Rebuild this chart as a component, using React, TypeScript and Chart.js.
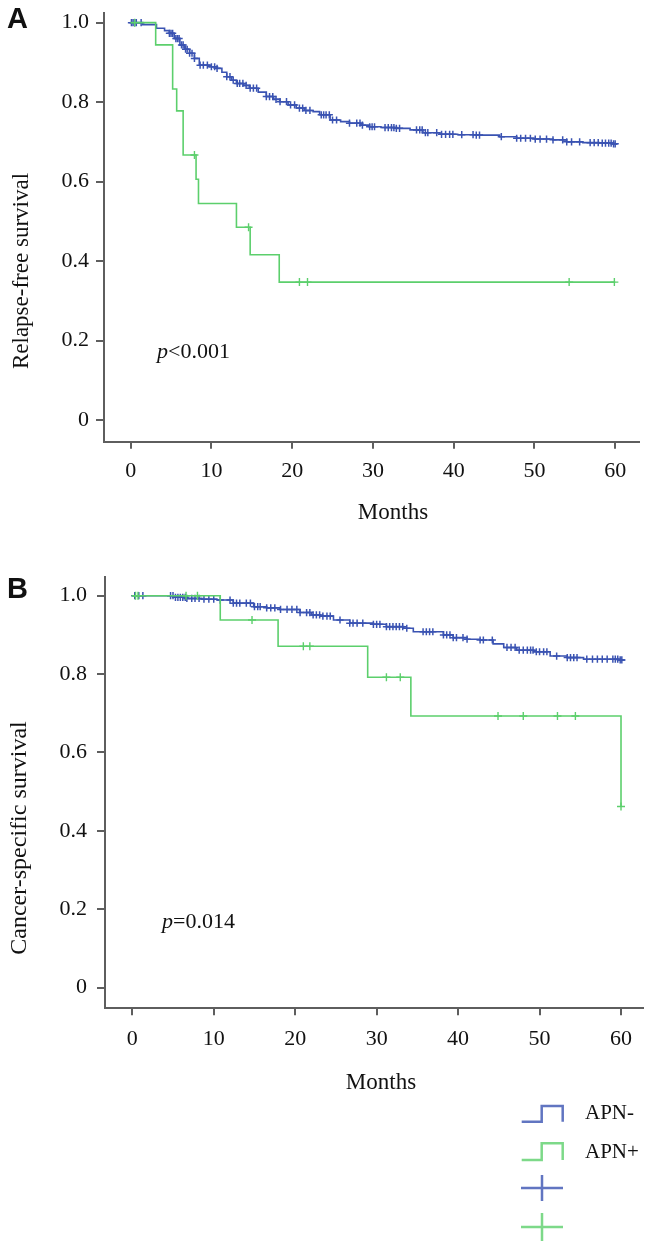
import React, { useEffect, useRef } from 'react';
import { Chart, registerables } from 'chart.js';

Chart.register(...registerables);

// ---------- shared ticks ----------
const xTickValues = [0, 10, 20, 30, 40, 50, 60];
const yTickValues = [0, 0.2, 0.4, 0.6, 0.8, 1.0];

// ---------- Panel A: relapse-free survival ----------
const rfsNegTimes = [0, 1.5, 3.2, 4.2, 4.8, 5.4, 6.1, 6.7, 7.3, 7.9, 8.5, 9.8, 10.6, 11.3, 11.9, 12.5, 13.1, 14.0, 14.7, 15.8, 16.8, 17.7, 18.5, 19.5, 20.5, 21.5, 22.6, 23.4, 24.7, 26.0, 27.1, 28.5, 29.6, 31.0, 32.9, 34.6, 36.2, 38.3, 40.5, 42.8, 45.7, 47.8, 50.0, 52.3, 54.0, 56.0, 58.0, 59.7];
const rfsNegSurv = [1.0, 0.995, 0.986, 0.98, 0.973, 0.96, 0.944, 0.933, 0.923, 0.91, 0.893, 0.889, 0.885, 0.875, 0.864, 0.855, 0.847, 0.842, 0.835, 0.825, 0.814, 0.807, 0.801, 0.793, 0.785, 0.779, 0.776, 0.768, 0.755, 0.751, 0.747, 0.742, 0.738, 0.736, 0.734, 0.73, 0.723, 0.719, 0.718, 0.717, 0.713, 0.709, 0.707, 0.705, 0.7, 0.698, 0.697, 0.695];
const rfsNegEnd = 60.3;
const rfsNegCensored = [0.1, 0.3, 0.5, 0.7, 1.3, 4.8, 5.0, 5.2, 5.6, 5.8, 6.0, 6.3, 6.5, 6.8, 7.0, 7.3, 7.6, 7.9, 8.6, 9.0, 9.5, 10.0, 10.4, 10.7, 11.9, 12.3, 12.7, 13.2, 13.5, 13.9, 14.3, 14.8, 15.2, 15.6, 16.8, 17.2, 17.6, 18.0, 18.5, 19.3, 19.8, 20.3, 20.9, 21.3, 21.7, 22.2, 23.6, 23.9, 24.2, 24.6, 25.0, 25.5, 27.1, 28.0, 28.4, 28.7, 29.6, 29.9, 30.2, 31.5, 31.9, 32.3, 32.6, 32.9, 33.3, 35.4, 35.8, 36.1, 36.5, 36.8, 37.9, 38.5, 39.0, 39.5, 39.9, 41.0, 42.4, 42.8, 43.2, 45.9, 47.8, 48.3, 48.9, 49.5, 50.1, 50.7, 51.5, 52.3, 53.5, 54.0, 54.6, 55.6, 56.9, 57.4, 57.9, 58.4, 58.8, 59.2, 59.5, 59.8, 60.0];

const rfsPosTimes = [0, 3.1, 5.2, 5.7, 6.5, 8.1, 8.4, 13.1, 14.8, 18.4];
const rfsPosSurv = [1.0, 0.944, 0.833, 0.778, 0.667, 0.606, 0.545, 0.485, 0.416, 0.347];
const rfsPosEnd = 60.0;
const rfsPosCensored = [0.5, 7.9, 14.6, 20.9, 21.9, 54.3, 59.9];

// ---------- Panel B: cancer-specific survival ----------
const cssNegTimes = [0, 5.1, 6.7, 8.5, 10.4, 12.4, 14.9, 16.5, 18.1, 20.6, 22.0, 23.1, 24.7, 26.7, 29.6, 31.2, 33.3, 34.5, 38.2, 39.4, 41.1, 42.7, 44.3, 45.6, 47.2, 49.3, 51.3, 53.4, 55.4, 59.9];
const cssNegSurv = [1.0, 0.996, 0.993, 0.991, 0.989, 0.981, 0.972, 0.969, 0.965, 0.957, 0.951, 0.948, 0.938, 0.93, 0.927, 0.921, 0.917, 0.908, 0.9, 0.893, 0.889, 0.887, 0.877, 0.868, 0.861, 0.857, 0.846, 0.842, 0.838, 0.836];
const cssNegEnd = 60.5;
const cssNegCensored = [0.3, 0.8, 1.3, 4.7, 5.0, 5.3, 5.6, 5.9, 6.2, 6.5, 6.7, 7.3, 7.7, 8.2, 8.8, 9.4, 10.0, 10.8, 12.0, 12.4, 12.8, 13.2, 14.0, 14.5, 15.0, 15.4, 15.7, 16.5, 17.0, 17.5, 18.2, 19.0, 19.6, 20.2, 20.6, 21.4, 21.8, 22.2, 22.6, 23.0, 23.4, 23.9, 24.3, 25.5, 26.7, 27.1, 27.6, 28.3, 29.6, 30.0, 30.4, 31.2, 31.6, 32.0, 32.4, 32.8, 33.2, 33.7, 35.7, 36.1, 36.5, 36.9, 38.2, 38.6, 39.0, 39.4, 39.8, 40.6, 41.1, 42.7, 43.1, 44.2, 46.0, 46.5, 47.0, 47.5, 48.0, 48.5, 48.9, 49.2, 49.6, 50.0, 50.5, 50.9, 52.1, 53.4, 53.8, 54.2, 54.6, 55.8, 56.5, 57.1, 57.7, 58.3, 59.0, 59.3, 59.6, 59.9, 60.1];

const cssPosTimes = [0, 10.8, 17.9, 28.9, 34.2, 60.0];
const cssPosSurv = [1.0, 0.938, 0.871, 0.792, 0.693, 0.462];
const cssPosEnd = 60.0;
const cssPosCensored = [0.4, 0.7, 6.6, 8.0, 14.7, 21.0, 21.8, 31.2, 32.9, 44.9, 48.0, 52.2, 54.4, 60.0];

// ---------- labels ----------
const groupLabels = ['APN-', 'APN+'];
const BLUE = '#3a53b2';
const GREEN = '#5ccf6c';
const SERIF = '"Liberation Serif", "Times New Roman", serif';

type Pt = { x: number; y: number };

function stepPoints(times: number[], surv: number[], end: number): Pt[] {
  const pts = times.map((t, i) => ({ x: t, y: surv[i] }));
  if (end > times[times.length - 1]) pts.push({ x: end, y: surv[surv.length - 1] });
  return pts;
}

function censorPoints(times: number[], surv: number[], censored: number[]): Pt[] {
  return censored.map((c) => {
    let v = surv[0];
    for (let i = 0; i < times.length; i++) if (times[i] <= c) v = surv[i];
    return { x: c, y: v };
  });
}

type PanelCfg = {
  letter: string;
  yTitle: string;
  pRest: string;
  neg: { times: number[]; surv: number[]; end: number; cens: number[] };
  pos: { times: number[]; surv: number[]; end: number; cens: number[] };
  canvasTop: number;
  canvasH: number;
  areaLeft: number;
  areaTop: number;
  areaRight: number;
  areaBottom: number;
  xMin: number;
  xMax: number;
  yMin: number;
  yMax: number;
  yTickPad: number;
  xTickPad: number;
  yTitlePos: [number, number];
  yTitleSize: number;
  xTitlePos: [number, number];
  pPos: [number, number];
  letterPos: [number, number];
  legend: boolean;
};

const panelA: PanelCfg = {
  letter: 'A',
  yTitle: 'Relapse-free survival',
  pRest: '<0.001',
  neg: { times: rfsNegTimes, surv: rfsNegSurv, end: rfsNegEnd, cens: rfsNegCensored },
  pos: { times: rfsPosTimes, surv: rfsPosSurv, end: rfsPosEnd, cens: rfsPosCensored },
  canvasTop: 0,
  canvasH: 560,
  areaLeft: 104,
  areaTop: 12.7,
  areaRight: 639,
  areaBottom: 441.7,
  xMin: -3.3,
  xMax: 62.95,
  yMin: -0.0546,
  yMax: 1.025,
  yTickPad: 7,
  xTickPad: 9,
  yTitlePos: [22, 271],
  yTitleSize: 23,
  xTitlePos: [393, 519],
  pPos: [157, 358],
  letterPos: [7, 28],
  legend: false,
};

const panelB: PanelCfg = {
  letter: 'B',
  yTitle: 'Cancer-specific survival',
  pRest: '=0.014',
  neg: { times: cssNegTimes, surv: cssNegSurv, end: cssNegEnd, cens: cssNegCensored },
  pos: { times: cssPosTimes, surv: cssPosSurv, end: cssPosEnd, cens: cssPosCensored },
  canvasTop: 560,
  canvasH: 687,
  areaLeft: 105,
  areaTop: 17.3,
  areaRight: 643,
  areaBottom: 448.3,
  xMin: -3.35,
  xMax: 62.7,
  yMin: -0.053,
  yMax: 1.047,
  yTickPad: 10,
  xTickPad: 11,
  yTitlePos: [20, 278],
  yTitleSize: 24,
  xTitlePos: [381, 529],
  pPos: [162, 368],
  letterPos: [7, 38],
  legend: true,
};

function makeDecor(cfg: PanelCfg) {
  return {
    id: 'decor' + cfg.letter,
    afterDraw(chart: any) {
      const ctx: CanvasRenderingContext2D = chart.ctx;
      ctx.save();
      // panel letter
      ctx.fillStyle = '#111';
      ctx.font = 'bold 29px "Liberation Sans", Arial, sans-serif';
      ctx.textAlign = 'left';
      ctx.textBaseline = 'alphabetic';
      ctx.fillText(cfg.letter, cfg.letterPos[0], cfg.letterPos[1]);

      // y title
      ctx.save();
      ctx.translate(cfg.yTitlePos[0], cfg.yTitlePos[1]);
      ctx.rotate(-Math.PI / 2);
      ctx.font = `${cfg.yTitleSize}px ${SERIF}`;
      ctx.textAlign = 'center';
      ctx.textBaseline = 'middle';
      ctx.fillText(cfg.yTitle, 0, 0);
      ctx.restore();

      // x title
      ctx.font = `23px ${SERIF}`;
      ctx.textAlign = 'center';
      ctx.textBaseline = 'alphabetic';
      ctx.fillText('Months', cfg.xTitlePos[0], cfg.xTitlePos[1]);

      // p value
      ctx.textAlign = 'left';
      ctx.font = `italic 22px ${SERIF}`;
      ctx.fillText('p', cfg.pPos[0], cfg.pPos[1]);
      const pw = ctx.measureText('p').width;
      ctx.font = `22px ${SERIF}`;
      ctx.fillText(cfg.pRest, cfg.pPos[0] + pw, cfg.pPos[1]);

      if (cfg.legend) {
        const top = cfg.canvasTop;
        const drawStep = (color: string, yLow: number, yHigh: number) => {
          ctx.beginPath();
          ctx.strokeStyle = color;
          ctx.lineWidth = 2.5;
          ctx.moveTo(521.7, yLow - top);
          ctx.lineTo(541.7, yLow - top);
          ctx.lineTo(541.7, yHigh - top);
          ctx.lineTo(562.7, yHigh - top);
          ctx.lineTo(562.7, yLow - top);
          ctx.stroke();
        };
        const drawCross = (color: string, cy: number, hh: number) => {
          ctx.beginPath();
          ctx.strokeStyle = color;
          ctx.lineWidth = 2.5;
          ctx.moveTo(521, cy - top);
          ctx.lineTo(563, cy - top);
          ctx.moveTo(542, cy - hh - top);
          ctx.lineTo(542, cy + hh - top);
          ctx.stroke();
        };
        ctx.globalAlpha = 0.8;
        drawStep(BLUE, 1121.7, 1106);
        drawStep(GREEN, 1160, 1143.3);
        drawCross(BLUE, 1188, 13);
        drawCross(GREEN, 1227, 14);
        ctx.globalAlpha = 1;
        ctx.fillStyle = '#111';
        ctx.font = `21px ${SERIF}`;
        ctx.textAlign = 'left';
        ctx.textBaseline = 'middle';
        ctx.fillText(groupLabels[0], 585, 1113 - top);
        ctx.fillText(groupLabels[1], 585, 1152 - top);
      }
      ctx.restore();
    },
  };
}

function buildChart(canvas: HTMLCanvasElement, cfg: PanelCfg) {
  const axisColor = '#5e5e5e';
  const tickFont = { family: SERIF, size: 22 };
  return new Chart(canvas, {
    type: 'line',
    data: {
      datasets: [
        {
          label: groupLabels[1],
          data: stepPoints(cfg.pos.times, cfg.pos.surv, cfg.pos.end),
          stepped: 'before',
          borderColor: GREEN,
          borderWidth: 1.6,
          pointRadius: 0,
          fill: false,
        },
        {
          label: groupLabels[1] + ' censored',
          data: censorPoints(cfg.pos.times, cfg.pos.surv, cfg.pos.cens),
          showLine: false,
          pointStyle: 'cross',
          pointRadius: 4,
          pointBorderColor: GREEN,
          pointBorderWidth: 1.4,
          borderColor: GREEN,
        },
        {
          label: groupLabels[0],
          data: stepPoints(cfg.neg.times, cfg.neg.surv, cfg.neg.end),
          stepped: 'before',
          borderColor: BLUE,
          borderWidth: 1.6,
          pointRadius: 0,
          fill: false,
        },
        {
          label: groupLabels[0] + ' censored',
          data: censorPoints(cfg.neg.times, cfg.neg.surv, cfg.neg.cens),
          showLine: false,
          pointStyle: 'cross',
          pointRadius: 3.6,
          pointBorderColor: BLUE,
          pointBorderWidth: 1.5,
          borderColor: BLUE,
        },
      ],
    } as any,
    options: {
      responsive: false,
      animation: false,
      events: [],
      layout: {
        padding: { left: 0, top: cfg.areaTop, right: 657 - cfg.areaRight, bottom: 0 },
      },
      plugins: {
        legend: { display: false },
        tooltip: { enabled: false },
        title: { display: false },
      },
      scales: {
        x: {
          type: 'linear',
          min: cfg.xMin,
          max: cfg.xMax,
          afterBuildTicks: (s: any) => {
            s.ticks = xTickValues.map((v) => ({ value: v }));
          },
          afterFit: (s: any) => {
            s.height = cfg.canvasH - cfg.areaBottom;
            s.paddingLeft = 0;
            s.paddingRight = 0;
          },
          ticks: {
            font: tickFont,
            color: '#111',
            padding: cfg.xTickPad,
            maxRotation: 0,
            minRotation: 0,
            autoSkip: false,
            callback: (v: any) => String(v),
          },
          grid: {
            drawOnChartArea: false,
            drawTicks: true,
            tickLength: 7,
            color: axisColor,
            lineWidth: 2,
          },
          border: { display: true, color: axisColor, width: 2 },
        },
        y: {
          type: 'linear',
          min: cfg.yMin,
          max: cfg.yMax,
          afterBuildTicks: (s: any) => {
            s.ticks = yTickValues.map((v) => ({ value: v }));
          },
          afterFit: (s: any) => {
            s.width = cfg.areaLeft;
            s.paddingTop = 0;
            s.paddingBottom = 0;
          },
          ticks: {
            font: tickFont,
            color: '#111',
            padding: cfg.yTickPad,
            autoSkip: false,
            callback: (v: any) => (v === 0 ? '0' : Number(v).toFixed(1)),
          },
          grid: {
            drawOnChartArea: false,
            drawTicks: true,
            tickLength: 8,
            color: axisColor,
            lineWidth: 2,
          },
          border: { display: true, color: axisColor, width: 2 },
        },
      },
    } as any,
    plugins: [makeDecor(cfg)],
  });
}

export default function App() {
  const refA = useRef<HTMLCanvasElement | null>(null);
  const refB = useRef<HTMLCanvasElement | null>(null);

  useEffect(() => {
    const charts: Chart[] = [];
    if (refA.current) charts.push(buildChart(refA.current, panelA));
    if (refB.current) charts.push(buildChart(refB.current, panelB));
    return () => charts.forEach((c) => c.destroy());
  }, []);

  return (
    <div
      style={{
        position: 'absolute',
        left: 0,
        top: 0,
        width: 657,
        height: 1247,
        background: '#fff',
        overflow: 'hidden',
      }}
    >
      <canvas
        ref={refA}
        width={657}
        height={panelA.canvasH}
        style={{ position: 'absolute', left: 0, top: panelA.canvasTop, width: 657, height: panelA.canvasH }}
      />
      <canvas
        ref={refB}
        width={657}
        height={panelB.canvasH}
        style={{ position: 'absolute', left: 0, top: panelB.canvasTop, width: 657, height: panelB.canvasH }}
      />
    </div>
  );
}
